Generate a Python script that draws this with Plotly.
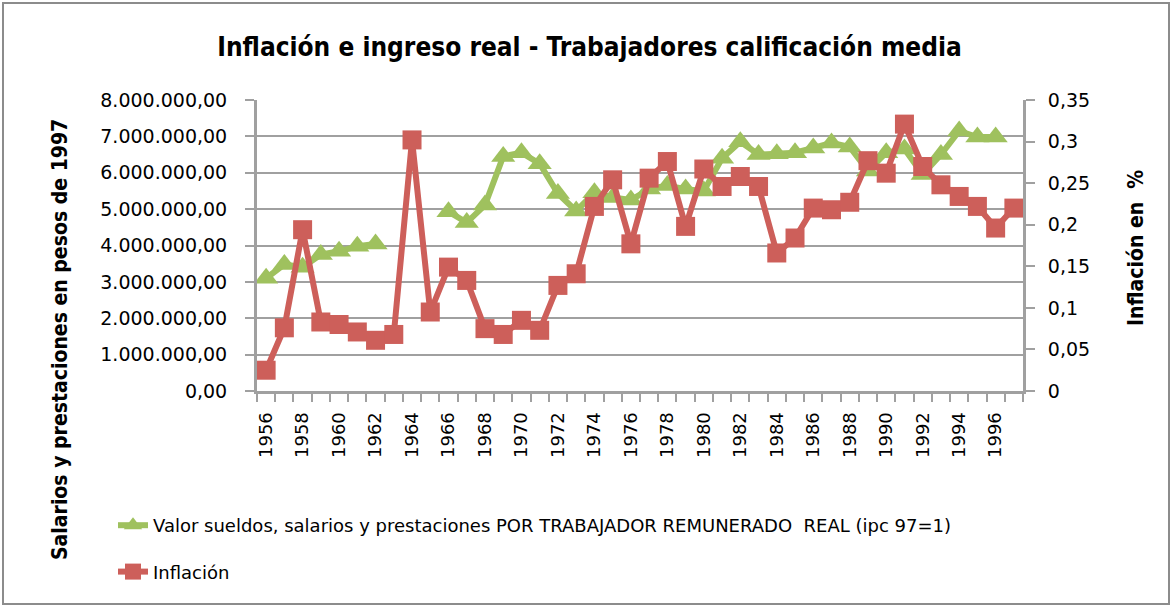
import plotly.graph_objects as go

years = list(range(1956, 1998))

salarios = [3.10e6, 3.48e6, 3.40e6, 3.75e6, 3.84e6, 3.98e6, 4.04e6, None, None, None,
            4.93e6, 4.63e6, 5.11e6, 6.45e6, 6.55e6, 6.25e6, 5.43e6, 4.95e6, 5.45e6, 5.32e6,
            5.25e6, 5.55e6, 5.65e6, 5.55e6, 5.50e6, 6.40e6, 6.85e6, 6.50e6, 6.52e6, 6.55e6,
            6.68e6, 6.82e6, 6.71e6, 6.05e6, 6.55e6, 6.65e6, 5.95e6, 6.50e6, 7.15e6, 6.98e6,
            6.98e6, None]

inflacion = [0.025, 0.076, 0.194, 0.083, 0.080, 0.071, 0.061, 0.068, 0.302, 0.095,
             0.149, 0.133, 0.075, 0.068, 0.085, 0.073, 0.127, 0.141, 0.222, 0.254,
             0.177, 0.256, 0.276, 0.198, 0.267, 0.246, 0.258, 0.246, 0.166, 0.184,
             0.220, 0.218, 0.227, 0.277, 0.262, 0.321, 0.270, 0.248, 0.234, 0.222,
             0.196, 0.220]

x_labels = [str(y) for y in range(1956, 1997, 2)]

name_sal = "Valor sueldos, salarios y prestaciones POR TRABAJADOR REMUNERADO  REAL (ipc 97=1)"
name_inf = "Inflación"
title_text = "Inflación e ingreso real - Trabajadores calificación media"
ytitle_left = "Salarios y prestaciones en pesos de 1997"
ytitle_right = "Inflación en  %"

GREEN = "#9FC15E"
RED = "#CD5F5A"
GRID = "#A0A0A0"
BOLD_FONT = "DejaVu Sans Condensed, Liberation Sans Narrow, Open Sans, sans-serif"
TXT_FONT = "DejaVu Sans, Verdana, sans-serif"

fig = go.Figure()
fig.add_trace(go.Scatter(
    x=years, y=salarios, name=name_sal, mode="lines+markers",
    line=dict(color=GREEN, width=6),
    marker=dict(symbol="triangle-up", size=21, color=GREEN),
    legendgroup="a", yaxis="y"))
fig.add_trace(go.Scatter(
    x=years, y=inflacion, name=name_inf, mode="lines+markers",
    line=dict(color=RED, width=6),
    marker=dict(symbol="square", size=19, color=RED),
    legendgroup="b", yaxis="y2"))

L, R, T, B = 257, 149, 100, 216
W, H = 1172, 607
pw, ph = W - L - R, H - T - B

def px(xp):
    return (xp - L) / pw

def py(yp):
    return (H - B - yp) / ph

fig.update_layout(
    width=W, height=H,
    margin=dict(l=L, r=R, t=T, b=B),
    paper_bgcolor="white", plot_bgcolor="white",
    separators=",.",
    showlegend=True,
    legend=dict(x=px(113), y=py(507), xanchor="left", yanchor="top",
                orientation="v", traceorder="grouped", tracegroupgap=20,
                font=dict(family=TXT_FONT, size=18, color="#000000"),
                bgcolor="rgba(0,0,0,0)"),
    title=dict(text="<b>" + title_text + "</b>", x=589.5 / W, xref="container", xanchor="center",
               y=1 - 47 / H, yref="container", yanchor="middle",
               font=dict(family=BOLD_FONT, size=26, color="#000000")),
    xaxis=dict(
        range=[1955.5, 1997.5], tickmode="array",
        tickvals=[int(v) for v in x_labels], ticktext=x_labels,
        tickangle=-90, ticks="", ticklen=0, ticklabelstandoff=11,
        tickfont=dict(family=TXT_FONT, size=18, color="#000000"),
        showgrid=False, zeroline=False,
        showline=True, linecolor=GRID, linewidth=3,
        minor=dict(tickmode="linear", tick0=1955.5, dtick=1, ticks="outside",
                   ticklen=8, tickwidth=2, tickcolor=GRID, showgrid=False),
    ),
    yaxis=dict(
        range=[0, 8e6], dtick=1e6, tickformat=",.2f",
        ticks="outside", ticklen=9, tickwidth=2, tickcolor=GRID,
        ticklabelstandoff=14,
        tickfont=dict(family=TXT_FONT, size=19, color="#000000"),
        showgrid=True, gridcolor=GRID, gridwidth=2,
        zeroline=False, showline=True, linecolor=GRID, linewidth=3,
    ),
    yaxis2=dict(
        range=[0, 0.35], dtick=0.05, overlaying="y", side="right",
        ticks="outside", ticklen=9, tickwidth=2, tickcolor=GRID,
        ticklabelstandoff=9,
        tickfont=dict(family=TXT_FONT, size=19, color="#000000"),
        showgrid=False, zeroline=False, showline=True, linecolor=GRID, linewidth=3,
    ),
    annotations=[
        dict(text="<b>" + ytitle_left + "</b>", textangle=-90, xref="paper", yref="paper",
             x=px(60), y=py(340), xanchor="center", yanchor="middle", showarrow=False,
             font=dict(family=BOLD_FONT, size=21, color="#000000")),
        dict(text="<b>" + ytitle_right + "</b>", textangle=-90, xref="paper", yref="paper",
             x=px(1136), y=py(248), xanchor="center", yanchor="middle", showarrow=False,
             font=dict(family=BOLD_FONT, size=21, color="#000000")),
    ],
    shapes=[
        dict(type="rect", xref="paper", yref="paper",
             x0=px(3), x1=px(1169), y0=py(604), y1=py(3),
             line=dict(color="#8C8C8C", width=2), fillcolor="rgba(0,0,0,0)", layer="below"),
    ],
)

fig.write_html("out.html", config={"displayModeBar": False},
               post_script="document.body.style.margin='0px';")
